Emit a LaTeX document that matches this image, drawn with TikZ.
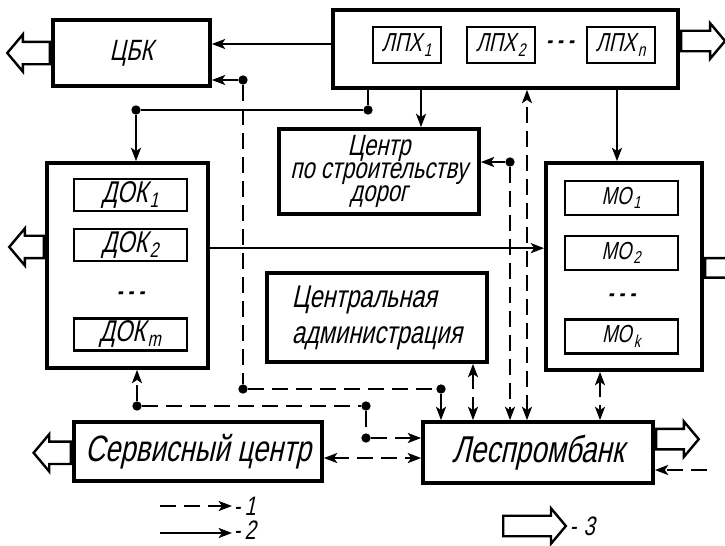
\documentclass[tikz,border=0pt]{standalone}
\usepackage{fontspec}
\newfontfamily\gost[FakeSlant=0.22,FakeStretch=0.75]{Liberation Sans}
\usepackage{tikz}
\usetikzlibrary{arrows.meta,positioning,shapes.arrows}

\begin{document}
\begin{tikzpicture}[
  x=0.75pt, y=-0.75pt,
  blk/.style={draw, line width=2.8pt, align=center, inner sep=2pt},
  unit/.style={draw, line width=1.6pt, inner sep=1pt},
  dunit/.style={unit, minimum width=84.75pt, minimum height=24pt, font=\gost\fontsize{22.5}{22.5}\selectfont},
  munit/.style={unit, minimum width=84.75pt, minimum height=25.5pt, font=\gost\fontsize{18.5}{18.5}\selectfont},
  lunit/.style={unit, minimum width=51pt, minimum height=27pt, font=\gost\fontsize{19.5}{19.5}\selectfont},
  gap/.style={font=\gost\bfseries\fontsize{18}{18}\selectfont},
  lnk/.style={line width=1.8pt},
  arr/.style={lnk, -{Stealth[length=10pt, width=7.5pt, inset=2.5pt]}},
  dsh/.style={lnk, dash pattern=on 12pt off 6pt},
  darr/.style={dsh, -{Stealth[length=10pt, width=7.5pt, inset=2.5pt]}},
  barr/.style={dsh, {Stealth[length=10pt, width=7.5pt, inset=2.5pt]}-{Stealth[length=10pt, width=7.5pt, inset=2.5pt]}},
  jn/.style={circle, fill, inner sep=0pt, minimum size=7pt},
  hol/.style={single arrow, draw, line width=1.8pt, fill=white, inner xsep=0pt, inner ysep=7.5pt,
              single arrow head extend=5.6pt, single arrow tip angle=100, minimum height=32pt},
  lgd/.style={font=\gost\fontsize{20}{20}\selectfont, anchor=base west, inner sep=1pt}
]
\useasboundingbox (0,0) rectangle (725,546);

% main blocks
\node[blk, minimum width=117.75pt, minimum height=49.5pt, font=\gost\fontsize{22}{22}\selectfont] (cbk) at (131.5,53) {ЦБК};
\node[blk, minimum width=258.75pt, minimum height=58.5pt] (lpx) at (505.5,49) {};
\node[lunit] (lpx1) at (407,45) {ЛПХ\kern1.5pt\textsubscript{1}};
\node[lunit, right=18pt of lpx1] (lpx2) {ЛПХ\kern1.5pt\textsubscript{2}};
\node[lunit] (lpxn) at (621,45) {ЛПХ\kern1.5pt\textsubscript{n}};
\node[gap] (lpxd) at (560,45) {- - -};

\node[blk, minimum width=150pt, minimum height=63.75pt, font=\gost\fontsize{22}{17}\selectfont] (road) at (379,171.5) {Центр\\по строительству\\дорог};

\node[blk, minimum width=120.75pt, minimum height=153.75pt] (dok) at (127.5,265.5) {};
\node[dunit] (dok1) at (130.5,195) {ДОК\kern1.5pt\textsubscript{1}};
\node[dunit, below=12pt of dok1] (dok2) {ДОК\kern1.5pt\textsubscript{2}};
\node[gap] (dokd) at (130.5,296) {- - -};
\node[dunit] (dokm) at (130.5,334.5) {ДОК\kern1.5pt\textsubscript{m}};

\node[blk, minimum width=117pt, minimum height=155.25pt] (mo) at (624,266.5) {};
\node[munit] (mo1) at (621.5,198) {МО\kern1.5pt\textsubscript{1}};
\node[munit, below=14.25pt of mo1] (mo2) {МО\kern1.5pt\textsubscript{2}};
\node[gap] (mod) at (621.5,298) {- - -};
\node[munit] (mok) at (621.5,336.5) {МО\kern1.5pt\textsubscript{k}};

\node[blk, minimum width=165pt, minimum height=66.75pt, align=left, font=\gost\fontsize{23.5}{27}\selectfont] (adm) at (377,317.5) {Центральная\\администрация};
\node[blk, minimum width=186pt, minimum height=44.25pt, font=\gost\fontsize{27.5}{27.5}\selectfont] (serv) at (198,451.5) {Сервисный центр};
\node[blk, minimum width=172.5pt, minimum height=45.75pt, font=\gost\fontsize{28}{28}\selectfont] (bank) at (538,452.5) {Леспромбанк};

% outputs
\node[hol, rotate=180, anchor=tail] (ocbk) at (cbk.west) {};
\node[hol, anchor=tail, minimum height=33pt, inner ysep=6.8pt] (olpx) at ([yshift=6pt]lpx.east) {};
\node[hol, rotate=180, anchor=tail, minimum height=26pt] (odok) at ([yshift=13.9pt]dok.west) {};
\node[hol, anchor=tail, inner ysep=6.4pt, minimum height=28pt] (omo) at ([yshift=-1pt]mo.east) {};
\node[hol, rotate=180, anchor=tail, minimum height=28pt] (oserv) at ([yshift=-1pt]serv.west) {};
\node[hol, anchor=tail, inner ysep=6.8pt] (obank) at ([yshift=10pt]bank.east) {};

% junctions
\node[jn] (j1) at (243,80) {};
\node[jn] (j2) at (243,389) {};
\node[jn] (j3) at (441,389) {};
\node[jn] (j4) at (368,110) {};
\node[jn] (j5) at (136,110) {};
\node[jn] (j6) at (510,162) {};
\node[jn] (j7) at (137,406) {};
\node[jn] (j8) at (366,406) {};
\node[jn] (j9) at (366,438) {};

% solid links
\draw[arr] ([yshift=3.75pt]lpx.west) -- ([yshift=3.75pt]lpx.west -| cbk.east);
\draw[lnk] (lpx.south -| j4) -- (j4) -- (j5);
\draw[arr] (j5) -- (j5 |- dok.north);
\draw[arr] ([xshift=31.5pt]road.north |- lpx.south) -- ([xshift=31.5pt]road.north);
\draw[arr] ([yshift=13pt]dok.east) -- ([yshift=13pt]dok.east -| mo.west);
\draw[arr] ([xshift=-5.25pt]mo.north |- lpx.south) -- ([xshift=-5.25pt]mo.north);

% dashed links
\draw[darr] (j1) -- (j1 -| cbk.east);
\draw[dsh] (j1) -- (j2) -- (j3);
\draw[darr] (j3) -- (j3 |- bank.north);
\draw[barr] ([xshift=-8.25pt]bank.north) -- ([xshift=-8.25pt]bank.north |- lpx.south);
\draw[darr] (j6) -- (j6 -| road.east);
\draw[darr] (j6) -- (j6 |- bank.north);
\draw[barr] ([xshift=72pt]adm.south) -- ([xshift=72pt]adm.south |- bank.north);
\draw[barr] ([xshift=-18pt]mo.south) -- ([xshift=-18pt]mo.south |- bank.north);
\draw[darr] (j7) -- (j7 |- dok.south);
\draw[dsh] (j7) -- (j8) -- (j9);
\draw[darr] (j9) -- (j9 -| bank.west);
\draw[barr] ([yshift=-4.9pt]serv.east) -- ([yshift=-4.9pt]serv.east -| bank.west);
\coordinate (inb) at (707,470);
\draw[darr] (inb) -- (inb -| bank.east);

% legend
\node[lgd] (t1) at (232,515) {-\,1};
\coordinate (l1) at (160,506);
\draw[darr] (l1) -- (l1 -| t1.west);
\node[lgd] (t2) at (232,539) {-\,2};
\coordinate (l2) at (160,533);
\draw[arr] (l2) -- (l2 -| t2.west);
\node[hol, anchor=tail, minimum height=47pt, inner ysep=6.8pt] (h3) at (502,526) {};
\node[lgd] (t3) at (568,535) {-\;3};
\end{tikzpicture}
\end{document}
